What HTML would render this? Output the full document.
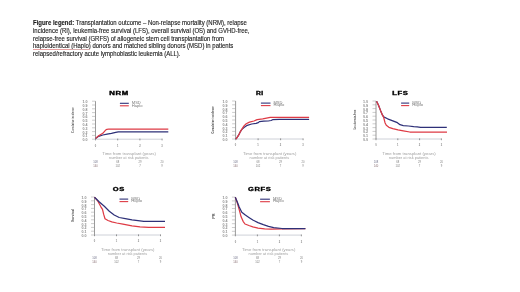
<!DOCTYPE html>
<html><head><meta charset="utf-8"><style>
html,body{margin:0;padding:0;background:#fff;width:520px;height:292px;overflow:hidden}
#legend{position:absolute;left:33px;top:19.2px;font-family:"Liberation Sans",Arial,sans-serif;font-size:6.4px;line-height:7.75px;color:#1a1a1a;-webkit-text-stroke:0.12px #1a1a1a;white-space:nowrap;transform:scaleX(0.935);transform-origin:0 0}
.uq{position:absolute;height:0.7px}
.sq{text-decoration:underline wavy #d33;text-decoration-thickness:0.5px}
.ul{text-decoration:underline #888;text-decoration-thickness:0.5px}
svg{position:absolute;left:0;top:0}
.tt{font-family:"Liberation Sans",Arial,sans-serif;font-weight:bold;font-size:4.5px;letter-spacing:0.35px;text-anchor:middle;fill:#000;stroke:#000;stroke-width:0.3px}
.lg{font-family:"Liberation Sans",Arial,sans-serif;font-size:2.6px;fill:#7a7a7a}
.tl{font-family:"Liberation Sans",Arial,sans-serif;font-weight:bold;font-size:2.6px;fill:#8a8a8a}
.nr{font-family:"Liberation Sans",Arial,sans-serif;font-size:2.7px;fill:#808080}
.xt{font-family:"Liberation Sans",Arial,sans-serif;font-size:2.6px;fill:#a0a0a0}
.yt{font-family:"Liberation Sans",Arial,sans-serif;font-weight:bold;font-size:3.6px;fill:#555}
</style></head><body>
<div id="legend"><b>Figure legend:</b> Transplantation outcome – Non-relapse mortality (NRM), relapse<br>incidence (RI), leukemia-free survival (LFS), overall survival (OS) and GVHD-free,<br>relapse-free survival (GRFS) of allogeneic stem cell transplantation from<br>haploidentical (Haplo) donors and matched sibling donors (MSD) in patients<br>relapsed/refractory acute lymphoblastic leukemia (ALL).</div>
<div class="uq" style="left:33px;top:49.4px;width:37.5px;background:#e7a0a0"></div><div class="uq" style="left:71px;top:49.4px;width:19px;background:#d8b0b0"></div>
<svg width="520" height="292" viewBox="0 0 520 292">
<text x="119.0" y="95.2" class="tt" textLength="19.5" lengthAdjust="spacingAndGlyphs">NRM</text>
<line x1="119.9" y1="103.3" x2="128.8" y2="103.3" stroke="#2e3078" stroke-width="1.1"/>
<line x1="119.9" y1="105.8" x2="128.8" y2="105.8" stroke="#de3a44" stroke-width="1.1"/>
<text x="131.8" y="103.9" class="lg" textLength="9" lengthAdjust="spacingAndGlyphs">MSD</text>
<text x="131.8" y="106.5" class="lg" textLength="10.8" lengthAdjust="spacingAndGlyphs">Haplo</text>
<line x1="92.0" y1="101.2" x2="95.5" y2="101.2" stroke="#9a9a9a" stroke-width="0.5"/>
<text x="87.5" y="103.1" class="tl" text-anchor="end" textLength="5" lengthAdjust="spacingAndGlyphs">1.0</text>
<line x1="92.0" y1="105.0" x2="95.5" y2="105.0" stroke="#9a9a9a" stroke-width="0.5"/>
<text x="87.5" y="106.9" class="tl" text-anchor="end" textLength="5" lengthAdjust="spacingAndGlyphs">0.9</text>
<line x1="92.0" y1="108.8" x2="95.5" y2="108.8" stroke="#9a9a9a" stroke-width="0.5"/>
<text x="87.5" y="110.7" class="tl" text-anchor="end" textLength="5" lengthAdjust="spacingAndGlyphs">0.8</text>
<line x1="92.0" y1="112.6" x2="95.5" y2="112.6" stroke="#9a9a9a" stroke-width="0.5"/>
<text x="87.5" y="114.5" class="tl" text-anchor="end" textLength="5" lengthAdjust="spacingAndGlyphs">0.7</text>
<line x1="92.0" y1="116.4" x2="95.5" y2="116.4" stroke="#9a9a9a" stroke-width="0.5"/>
<text x="87.5" y="118.3" class="tl" text-anchor="end" textLength="5" lengthAdjust="spacingAndGlyphs">0.6</text>
<line x1="92.0" y1="120.2" x2="95.5" y2="120.2" stroke="#9a9a9a" stroke-width="0.5"/>
<text x="87.5" y="122.1" class="tl" text-anchor="end" textLength="5" lengthAdjust="spacingAndGlyphs">0.5</text>
<line x1="92.0" y1="124.0" x2="95.5" y2="124.0" stroke="#9a9a9a" stroke-width="0.5"/>
<text x="87.5" y="125.9" class="tl" text-anchor="end" textLength="5" lengthAdjust="spacingAndGlyphs">0.4</text>
<line x1="92.0" y1="127.8" x2="95.5" y2="127.8" stroke="#9a9a9a" stroke-width="0.5"/>
<text x="87.5" y="129.7" class="tl" text-anchor="end" textLength="5" lengthAdjust="spacingAndGlyphs">0.3</text>
<line x1="92.0" y1="131.6" x2="95.5" y2="131.6" stroke="#9a9a9a" stroke-width="0.5"/>
<text x="87.5" y="133.5" class="tl" text-anchor="end" textLength="5" lengthAdjust="spacingAndGlyphs">0.2</text>
<line x1="92.0" y1="135.4" x2="95.5" y2="135.4" stroke="#9a9a9a" stroke-width="0.5"/>
<text x="87.5" y="137.3" class="tl" text-anchor="end" textLength="5" lengthAdjust="spacingAndGlyphs">0.1</text>
<line x1="92.0" y1="139.2" x2="95.5" y2="139.2" stroke="#9a9a9a" stroke-width="0.5"/>
<text x="87.5" y="141.1" class="tl" text-anchor="end" textLength="5" lengthAdjust="spacingAndGlyphs">0.0</text>
<line x1="95.5" y1="139.2" x2="162.1" y2="139.2" stroke="#c8ccd4" stroke-width="0.9"/>
<line x1="95.5" y1="138.6" x2="95.5" y2="140.4" stroke="#555" stroke-width="0.6"/>
<text x="95.5" y="146.6" class="tl" text-anchor="middle">0</text>
<text x="95.5" y="163.1" class="nr" text-anchor="middle" style="fill:#70728a">108</text>
<text x="95.5" y="166.7" class="nr" text-anchor="middle" style="fill:#8a7074">140</text>
<line x1="117.7" y1="138.6" x2="117.7" y2="140.4" stroke="#555" stroke-width="0.6"/>
<text x="117.7" y="146.6" class="tl" text-anchor="middle">1</text>
<text x="117.7" y="163.1" class="nr" text-anchor="middle">68</text>
<text x="117.7" y="166.7" class="nr" text-anchor="middle">102</text>
<line x1="139.9" y1="138.6" x2="139.9" y2="140.4" stroke="#555" stroke-width="0.6"/>
<text x="139.9" y="146.6" class="tl" text-anchor="middle">2</text>
<text x="139.9" y="163.1" class="nr" text-anchor="middle">29</text>
<text x="139.9" y="166.7" class="nr" text-anchor="middle">7</text>
<line x1="162.1" y1="138.6" x2="162.1" y2="140.4" stroke="#555" stroke-width="0.6"/>
<text x="162.1" y="146.6" class="tl" text-anchor="middle">3</text>
<text x="162.1" y="163.1" class="nr" text-anchor="middle">20</text>
<text x="162.1" y="166.7" class="nr" text-anchor="middle">9</text>
<line x1="95.5" y1="101.2" x2="95.5" y2="139.2" stroke="#9a9a9a" stroke-width="1"/>
<text x="129.1" y="155.2" class="xt" text-anchor="middle" textLength="53.5" lengthAdjust="spacingAndGlyphs">Time from transplant (years)</text>
<text x="128.8" y="158.8" class="xt" text-anchor="middle" textLength="39.6" lengthAdjust="spacingAndGlyphs">number at risk patients</text>
<text transform="translate(73.80,120.2) rotate(-90)" x="0" y="0" class="yt" text-anchor="middle" textLength="25.4" lengthAdjust="spacingAndGlyphs">Cumulative incidence</text>
<polyline points="95.6,138.4 98.6,136.3 102.8,135.0 107.1,134.1 111.4,133.3 115.7,132.4 118.3,131.9 168.3,131.9" fill="none" stroke="#2e3078" stroke-width="1.25" stroke-linejoin="round"/>
<polyline points="95.6,138.4 98.6,135.8 102.8,133.3 105.4,130.3 107.0,129.3 108.8,129.0 168.3,129.0" fill="none" stroke="#de3a44" stroke-width="1.25" stroke-linejoin="round"/>
<text x="259.9" y="95.0" class="tt" textLength="7.7" lengthAdjust="spacingAndGlyphs">RI</text>
<line x1="260.9" y1="103.1" x2="270.5" y2="103.1" stroke="#2e3078" stroke-width="1.1"/>
<line x1="260.9" y1="105.6" x2="270.5" y2="105.6" stroke="#de3a44" stroke-width="1.1"/>
<text x="273.5" y="103.7" class="lg" textLength="9" lengthAdjust="spacingAndGlyphs">MSD</text>
<text x="273.5" y="106.3" class="lg" textLength="10.8" lengthAdjust="spacingAndGlyphs">Haplo</text>
<line x1="232.1" y1="101.0" x2="235.6" y2="101.0" stroke="#9a9a9a" stroke-width="0.5"/>
<text x="227.6" y="102.9" class="tl" text-anchor="end" textLength="5" lengthAdjust="spacingAndGlyphs">1.0</text>
<line x1="232.1" y1="104.8" x2="235.6" y2="104.8" stroke="#9a9a9a" stroke-width="0.5"/>
<text x="227.6" y="106.7" class="tl" text-anchor="end" textLength="5" lengthAdjust="spacingAndGlyphs">0.9</text>
<line x1="232.1" y1="108.6" x2="235.6" y2="108.6" stroke="#9a9a9a" stroke-width="0.5"/>
<text x="227.6" y="110.5" class="tl" text-anchor="end" textLength="5" lengthAdjust="spacingAndGlyphs">0.8</text>
<line x1="232.1" y1="112.4" x2="235.6" y2="112.4" stroke="#9a9a9a" stroke-width="0.5"/>
<text x="227.6" y="114.3" class="tl" text-anchor="end" textLength="5" lengthAdjust="spacingAndGlyphs">0.7</text>
<line x1="232.1" y1="116.2" x2="235.6" y2="116.2" stroke="#9a9a9a" stroke-width="0.5"/>
<text x="227.6" y="118.1" class="tl" text-anchor="end" textLength="5" lengthAdjust="spacingAndGlyphs">0.6</text>
<line x1="232.1" y1="120.0" x2="235.6" y2="120.0" stroke="#9a9a9a" stroke-width="0.5"/>
<text x="227.6" y="121.9" class="tl" text-anchor="end" textLength="5" lengthAdjust="spacingAndGlyphs">0.5</text>
<line x1="232.1" y1="123.8" x2="235.6" y2="123.8" stroke="#9a9a9a" stroke-width="0.5"/>
<text x="227.6" y="125.7" class="tl" text-anchor="end" textLength="5" lengthAdjust="spacingAndGlyphs">0.4</text>
<line x1="232.1" y1="127.6" x2="235.6" y2="127.6" stroke="#9a9a9a" stroke-width="0.5"/>
<text x="227.6" y="129.5" class="tl" text-anchor="end" textLength="5" lengthAdjust="spacingAndGlyphs">0.3</text>
<line x1="232.1" y1="131.4" x2="235.6" y2="131.4" stroke="#9a9a9a" stroke-width="0.5"/>
<text x="227.6" y="133.3" class="tl" text-anchor="end" textLength="5" lengthAdjust="spacingAndGlyphs">0.2</text>
<line x1="232.1" y1="135.2" x2="235.6" y2="135.2" stroke="#9a9a9a" stroke-width="0.5"/>
<text x="227.6" y="137.1" class="tl" text-anchor="end" textLength="5" lengthAdjust="spacingAndGlyphs">0.1</text>
<line x1="232.1" y1="139.0" x2="235.6" y2="139.0" stroke="#9a9a9a" stroke-width="0.5"/>
<text x="227.6" y="140.9" class="tl" text-anchor="end" textLength="5" lengthAdjust="spacingAndGlyphs">0.0</text>
<line x1="235.6" y1="139.0" x2="303.1" y2="139.0" stroke="#c8ccd4" stroke-width="0.9"/>
<line x1="235.6" y1="138.4" x2="235.6" y2="140.2" stroke="#555" stroke-width="0.6"/>
<text x="235.6" y="146.4" class="tl" text-anchor="middle">0</text>
<text x="235.6" y="162.9" class="nr" text-anchor="middle" style="fill:#70728a">108</text>
<text x="235.6" y="166.5" class="nr" text-anchor="middle" style="fill:#8a7074">140</text>
<line x1="258.1" y1="138.4" x2="258.1" y2="140.2" stroke="#555" stroke-width="0.6"/>
<text x="258.1" y="146.4" class="tl" text-anchor="middle">1</text>
<text x="258.1" y="162.9" class="nr" text-anchor="middle">68</text>
<text x="258.1" y="166.5" class="nr" text-anchor="middle">102</text>
<line x1="280.6" y1="138.4" x2="280.6" y2="140.2" stroke="#555" stroke-width="0.6"/>
<text x="280.6" y="146.4" class="tl" text-anchor="middle">2</text>
<text x="280.6" y="162.9" class="nr" text-anchor="middle">29</text>
<text x="280.6" y="166.5" class="nr" text-anchor="middle">7</text>
<line x1="303.1" y1="138.4" x2="303.1" y2="140.2" stroke="#555" stroke-width="0.6"/>
<text x="303.1" y="146.4" class="tl" text-anchor="middle">3</text>
<text x="303.1" y="162.9" class="nr" text-anchor="middle">20</text>
<text x="303.1" y="166.5" class="nr" text-anchor="middle">9</text>
<line x1="235.6" y1="101.0" x2="235.6" y2="139.0" stroke="#9a9a9a" stroke-width="1"/>
<text x="269.7" y="155.0" class="xt" text-anchor="middle" textLength="53.5" lengthAdjust="spacingAndGlyphs">Time from transplant (years)</text>
<text x="269.4" y="158.6" class="xt" text-anchor="middle" textLength="39.6" lengthAdjust="spacingAndGlyphs">number at risk patients</text>
<text transform="translate(214.15,119.9) rotate(-90)" x="0" y="0" class="yt" text-anchor="middle" textLength="27.4" lengthAdjust="spacingAndGlyphs">Cumulative incidence</text>
<polyline points="235.8,139.0 237.2,137.3 238.6,135.2 240.2,131.9 241.9,129.4 244.0,127.5 247.3,125.3 251.7,124.0 256.1,123.4 258.3,122.6 259.4,121.6 263.8,121.2 268.2,121.0 271.1,120.5 272.6,119.7 279.3,119.3 309.1,119.3" fill="none" stroke="#2e3078" stroke-width="1.25" stroke-linejoin="round"/>
<polyline points="235.8,139.0 237.2,137.3 238.6,135.2 240.2,131.9 241.9,129.2 244.0,125.9 246.2,123.7 249.5,122.1 253.9,121.0 257.2,119.6 262.7,118.8 267.8,117.8 270.2,117.4 309.1,117.4" fill="none" stroke="#de3a44" stroke-width="1.25" stroke-linejoin="round"/>
<text x="400.3" y="95.0" class="tt" textLength="16.1" lengthAdjust="spacingAndGlyphs">LFS</text>
<line x1="401.1" y1="103.1" x2="409.2" y2="103.1" stroke="#2e3078" stroke-width="1.1"/>
<line x1="401.1" y1="105.6" x2="409.2" y2="105.6" stroke="#de3a44" stroke-width="1.1"/>
<text x="412.2" y="103.7" class="lg" textLength="9" lengthAdjust="spacingAndGlyphs">MSD</text>
<text x="412.2" y="106.3" class="lg" textLength="10.8" lengthAdjust="spacingAndGlyphs">Haplo</text>
<line x1="372.5" y1="101.0" x2="376.0" y2="101.0" stroke="#9a9a9a" stroke-width="0.5"/>
<text x="368.0" y="102.9" class="tl" text-anchor="end" textLength="5" lengthAdjust="spacingAndGlyphs">1.0</text>
<line x1="372.5" y1="104.8" x2="376.0" y2="104.8" stroke="#9a9a9a" stroke-width="0.5"/>
<text x="368.0" y="106.7" class="tl" text-anchor="end" textLength="5" lengthAdjust="spacingAndGlyphs">0.9</text>
<line x1="372.5" y1="108.6" x2="376.0" y2="108.6" stroke="#9a9a9a" stroke-width="0.5"/>
<text x="368.0" y="110.5" class="tl" text-anchor="end" textLength="5" lengthAdjust="spacingAndGlyphs">0.8</text>
<line x1="372.5" y1="112.4" x2="376.0" y2="112.4" stroke="#9a9a9a" stroke-width="0.5"/>
<text x="368.0" y="114.3" class="tl" text-anchor="end" textLength="5" lengthAdjust="spacingAndGlyphs">0.7</text>
<line x1="372.5" y1="116.2" x2="376.0" y2="116.2" stroke="#9a9a9a" stroke-width="0.5"/>
<text x="368.0" y="118.1" class="tl" text-anchor="end" textLength="5" lengthAdjust="spacingAndGlyphs">0.6</text>
<line x1="372.5" y1="120.0" x2="376.0" y2="120.0" stroke="#9a9a9a" stroke-width="0.5"/>
<text x="368.0" y="121.9" class="tl" text-anchor="end" textLength="5" lengthAdjust="spacingAndGlyphs">0.5</text>
<line x1="372.5" y1="123.8" x2="376.0" y2="123.8" stroke="#9a9a9a" stroke-width="0.5"/>
<text x="368.0" y="125.7" class="tl" text-anchor="end" textLength="5" lengthAdjust="spacingAndGlyphs">0.4</text>
<line x1="372.5" y1="127.6" x2="376.0" y2="127.6" stroke="#9a9a9a" stroke-width="0.5"/>
<text x="368.0" y="129.5" class="tl" text-anchor="end" textLength="5" lengthAdjust="spacingAndGlyphs">0.3</text>
<line x1="372.5" y1="131.4" x2="376.0" y2="131.4" stroke="#9a9a9a" stroke-width="0.5"/>
<text x="368.0" y="133.3" class="tl" text-anchor="end" textLength="5" lengthAdjust="spacingAndGlyphs">0.2</text>
<line x1="372.5" y1="135.2" x2="376.0" y2="135.2" stroke="#9a9a9a" stroke-width="0.5"/>
<text x="368.0" y="137.1" class="tl" text-anchor="end" textLength="5" lengthAdjust="spacingAndGlyphs">0.1</text>
<line x1="372.5" y1="139.0" x2="376.0" y2="139.0" stroke="#9a9a9a" stroke-width="0.5"/>
<text x="368.0" y="140.9" class="tl" text-anchor="end" textLength="5" lengthAdjust="spacingAndGlyphs">0.0</text>
<line x1="376.0" y1="139.0" x2="441.4" y2="139.0" stroke="#c8ccd4" stroke-width="0.9"/>
<line x1="376.0" y1="138.4" x2="376.0" y2="140.2" stroke="#555" stroke-width="0.6"/>
<text x="376.0" y="146.4" class="tl" text-anchor="middle">0</text>
<text x="376.0" y="162.9" class="nr" text-anchor="middle" style="fill:#70728a">108</text>
<text x="376.0" y="166.5" class="nr" text-anchor="middle" style="fill:#8a7074">140</text>
<line x1="397.8" y1="138.4" x2="397.8" y2="140.2" stroke="#555" stroke-width="0.6"/>
<text x="397.8" y="146.4" class="tl" text-anchor="middle">1</text>
<text x="397.8" y="162.9" class="nr" text-anchor="middle">68</text>
<text x="397.8" y="166.5" class="nr" text-anchor="middle">102</text>
<line x1="419.6" y1="138.4" x2="419.6" y2="140.2" stroke="#555" stroke-width="0.6"/>
<text x="419.6" y="146.4" class="tl" text-anchor="middle">2</text>
<text x="419.6" y="162.9" class="nr" text-anchor="middle">29</text>
<text x="419.6" y="166.5" class="nr" text-anchor="middle">7</text>
<line x1="441.4" y1="138.4" x2="441.4" y2="140.2" stroke="#555" stroke-width="0.6"/>
<text x="441.4" y="146.4" class="tl" text-anchor="middle">3</text>
<text x="441.4" y="162.9" class="nr" text-anchor="middle">20</text>
<text x="441.4" y="166.5" class="nr" text-anchor="middle">9</text>
<line x1="376.0" y1="101.0" x2="376.0" y2="139.0" stroke="#9a9a9a" stroke-width="1"/>
<text x="409.0" y="155.0" class="xt" text-anchor="middle" textLength="53.5" lengthAdjust="spacingAndGlyphs">Time from transplant (years)</text>
<text x="408.7" y="158.6" class="xt" text-anchor="middle" textLength="39.6" lengthAdjust="spacingAndGlyphs">number at risk patients</text>
<text transform="translate(355.50,119.5) rotate(-90)" x="0" y="0" class="yt" text-anchor="middle" textLength="19.9" lengthAdjust="spacingAndGlyphs">Leukemia-free</text>
<polyline points="376.6,101.3 378.5,105.2 380.5,110.4 382.4,114.9 383.7,116.9 387.6,118.8 392.8,120.8 397.4,122.7 400.0,124.7 403.3,125.6 408.5,126.0 413.7,126.7 417.1,126.9 420.6,127.4 446.8,127.4" fill="none" stroke="#2e3078" stroke-width="1.25" stroke-linejoin="round"/>
<polyline points="376.6,101.3 378.5,105.2 380.5,110.4 382.4,114.9 383.7,117.5 385.0,122.7 386.3,125.3 388.9,127.3 392.8,128.6 398.0,129.9 403.3,130.8 409.8,132.0 447.0,132.1" fill="none" stroke="#de3a44" stroke-width="1.25" stroke-linejoin="round"/>
<text x="118.8" y="191.0" class="tt" textLength="12.0" lengthAdjust="spacingAndGlyphs">OS</text>
<line x1="119.5" y1="199.1" x2="128.2" y2="199.1" stroke="#2e3078" stroke-width="1.1"/>
<line x1="119.5" y1="201.6" x2="128.2" y2="201.6" stroke="#de3a44" stroke-width="1.1"/>
<text x="131.2" y="199.7" class="lg" textLength="9" lengthAdjust="spacingAndGlyphs">MSD</text>
<text x="131.2" y="202.3" class="lg" textLength="10.8" lengthAdjust="spacingAndGlyphs">Haplo</text>
<line x1="91.0" y1="197.0" x2="94.5" y2="197.0" stroke="#9a9a9a" stroke-width="0.5"/>
<text x="86.5" y="198.9" class="tl" text-anchor="end" textLength="5" lengthAdjust="spacingAndGlyphs">1.0</text>
<line x1="91.0" y1="200.8" x2="94.5" y2="200.8" stroke="#9a9a9a" stroke-width="0.5"/>
<text x="86.5" y="202.7" class="tl" text-anchor="end" textLength="5" lengthAdjust="spacingAndGlyphs">0.9</text>
<line x1="91.0" y1="204.6" x2="94.5" y2="204.6" stroke="#9a9a9a" stroke-width="0.5"/>
<text x="86.5" y="206.5" class="tl" text-anchor="end" textLength="5" lengthAdjust="spacingAndGlyphs">0.8</text>
<line x1="91.0" y1="208.4" x2="94.5" y2="208.4" stroke="#9a9a9a" stroke-width="0.5"/>
<text x="86.5" y="210.3" class="tl" text-anchor="end" textLength="5" lengthAdjust="spacingAndGlyphs">0.7</text>
<line x1="91.0" y1="212.2" x2="94.5" y2="212.2" stroke="#9a9a9a" stroke-width="0.5"/>
<text x="86.5" y="214.1" class="tl" text-anchor="end" textLength="5" lengthAdjust="spacingAndGlyphs">0.6</text>
<line x1="91.0" y1="216.0" x2="94.5" y2="216.0" stroke="#9a9a9a" stroke-width="0.5"/>
<text x="86.5" y="217.9" class="tl" text-anchor="end" textLength="5" lengthAdjust="spacingAndGlyphs">0.5</text>
<line x1="91.0" y1="219.8" x2="94.5" y2="219.8" stroke="#9a9a9a" stroke-width="0.5"/>
<text x="86.5" y="221.7" class="tl" text-anchor="end" textLength="5" lengthAdjust="spacingAndGlyphs">0.4</text>
<line x1="91.0" y1="223.6" x2="94.5" y2="223.6" stroke="#9a9a9a" stroke-width="0.5"/>
<text x="86.5" y="225.5" class="tl" text-anchor="end" textLength="5" lengthAdjust="spacingAndGlyphs">0.3</text>
<line x1="91.0" y1="227.4" x2="94.5" y2="227.4" stroke="#9a9a9a" stroke-width="0.5"/>
<text x="86.5" y="229.3" class="tl" text-anchor="end" textLength="5" lengthAdjust="spacingAndGlyphs">0.2</text>
<line x1="91.0" y1="231.2" x2="94.5" y2="231.2" stroke="#9a9a9a" stroke-width="0.5"/>
<text x="86.5" y="233.1" class="tl" text-anchor="end" textLength="5" lengthAdjust="spacingAndGlyphs">0.1</text>
<line x1="91.0" y1="235.0" x2="94.5" y2="235.0" stroke="#9a9a9a" stroke-width="0.5"/>
<text x="86.5" y="236.9" class="tl" text-anchor="end" textLength="5" lengthAdjust="spacingAndGlyphs">0.0</text>
<line x1="94.5" y1="235.0" x2="160.5" y2="235.0" stroke="#c8ccd4" stroke-width="0.9"/>
<line x1="94.5" y1="234.4" x2="94.5" y2="236.2" stroke="#555" stroke-width="0.6"/>
<text x="94.5" y="242.4" class="tl" text-anchor="middle">0</text>
<text x="94.5" y="258.9" class="nr" text-anchor="middle" style="fill:#70728a">108</text>
<text x="94.5" y="262.5" class="nr" text-anchor="middle" style="fill:#8a7074">140</text>
<line x1="116.5" y1="234.4" x2="116.5" y2="236.2" stroke="#555" stroke-width="0.6"/>
<text x="116.5" y="242.4" class="tl" text-anchor="middle">1</text>
<text x="116.5" y="258.9" class="nr" text-anchor="middle">68</text>
<text x="116.5" y="262.5" class="nr" text-anchor="middle">102</text>
<line x1="138.5" y1="234.4" x2="138.5" y2="236.2" stroke="#555" stroke-width="0.6"/>
<text x="138.5" y="242.4" class="tl" text-anchor="middle">2</text>
<text x="138.5" y="258.9" class="nr" text-anchor="middle">29</text>
<text x="138.5" y="262.5" class="nr" text-anchor="middle">7</text>
<line x1="160.5" y1="234.4" x2="160.5" y2="236.2" stroke="#555" stroke-width="0.6"/>
<text x="160.5" y="242.4" class="tl" text-anchor="middle">3</text>
<text x="160.5" y="258.9" class="nr" text-anchor="middle">20</text>
<text x="160.5" y="262.5" class="nr" text-anchor="middle">9</text>
<line x1="94.5" y1="197.0" x2="94.5" y2="235.0" stroke="#9a9a9a" stroke-width="1"/>
<text x="127.8" y="251.0" class="xt" text-anchor="middle" textLength="53.5" lengthAdjust="spacingAndGlyphs">Time from transplant (years)</text>
<text x="127.5" y="254.6" class="xt" text-anchor="middle" textLength="39.6" lengthAdjust="spacingAndGlyphs">number at risk patients</text>
<text transform="translate(74.05,215.5) rotate(-90)" x="0" y="0" class="yt" text-anchor="middle" textLength="13.0" lengthAdjust="spacingAndGlyphs">Survival</text>
<polyline points="94.5,197.2 97.6,200.8 100.6,206.3 102.5,209.4 103.7,214.4 105.0,218.7 108.0,220.5 111.8,221.8 116.7,223.0 122.9,224.2 132.0,225.9 140.0,226.8 148.5,227.4 165.0,227.4" fill="none" stroke="#de3a44" stroke-width="1.25" stroke-linejoin="round"/>
<polyline points="94.5,197.2 99.4,202.0 104.3,206.3 109.3,211.3 114.2,215.0 119.2,217.5 125.3,218.7 132.0,219.9 138.0,220.7 143.8,221.4 165.0,221.4" fill="none" stroke="#2e3078" stroke-width="1.25" stroke-linejoin="round"/>
<text x="259.7" y="191.1" class="tt" textLength="23.2" lengthAdjust="spacingAndGlyphs">GRFS</text>
<line x1="260.1" y1="199.2" x2="269.9" y2="199.2" stroke="#2e3078" stroke-width="1.1"/>
<line x1="260.1" y1="201.7" x2="269.9" y2="201.7" stroke="#de3a44" stroke-width="1.1"/>
<text x="272.9" y="199.8" class="lg" textLength="9" lengthAdjust="spacingAndGlyphs">MSD</text>
<text x="272.9" y="202.4" class="lg" textLength="10.8" lengthAdjust="spacingAndGlyphs">Haplo</text>
<line x1="231.9" y1="197.1" x2="235.4" y2="197.1" stroke="#9a9a9a" stroke-width="0.5"/>
<text x="227.4" y="199.0" class="tl" text-anchor="end" textLength="5" lengthAdjust="spacingAndGlyphs">1.0</text>
<line x1="231.9" y1="200.9" x2="235.4" y2="200.9" stroke="#9a9a9a" stroke-width="0.5"/>
<text x="227.4" y="202.8" class="tl" text-anchor="end" textLength="5" lengthAdjust="spacingAndGlyphs">0.9</text>
<line x1="231.9" y1="204.7" x2="235.4" y2="204.7" stroke="#9a9a9a" stroke-width="0.5"/>
<text x="227.4" y="206.6" class="tl" text-anchor="end" textLength="5" lengthAdjust="spacingAndGlyphs">0.8</text>
<line x1="231.9" y1="208.5" x2="235.4" y2="208.5" stroke="#9a9a9a" stroke-width="0.5"/>
<text x="227.4" y="210.4" class="tl" text-anchor="end" textLength="5" lengthAdjust="spacingAndGlyphs">0.7</text>
<line x1="231.9" y1="212.3" x2="235.4" y2="212.3" stroke="#9a9a9a" stroke-width="0.5"/>
<text x="227.4" y="214.2" class="tl" text-anchor="end" textLength="5" lengthAdjust="spacingAndGlyphs">0.6</text>
<line x1="231.9" y1="216.1" x2="235.4" y2="216.1" stroke="#9a9a9a" stroke-width="0.5"/>
<text x="227.4" y="218.0" class="tl" text-anchor="end" textLength="5" lengthAdjust="spacingAndGlyphs">0.5</text>
<line x1="231.9" y1="219.9" x2="235.4" y2="219.9" stroke="#9a9a9a" stroke-width="0.5"/>
<text x="227.4" y="221.8" class="tl" text-anchor="end" textLength="5" lengthAdjust="spacingAndGlyphs">0.4</text>
<line x1="231.9" y1="223.7" x2="235.4" y2="223.7" stroke="#9a9a9a" stroke-width="0.5"/>
<text x="227.4" y="225.6" class="tl" text-anchor="end" textLength="5" lengthAdjust="spacingAndGlyphs">0.3</text>
<line x1="231.9" y1="227.5" x2="235.4" y2="227.5" stroke="#9a9a9a" stroke-width="0.5"/>
<text x="227.4" y="229.4" class="tl" text-anchor="end" textLength="5" lengthAdjust="spacingAndGlyphs">0.2</text>
<line x1="231.9" y1="231.3" x2="235.4" y2="231.3" stroke="#9a9a9a" stroke-width="0.5"/>
<text x="227.4" y="233.2" class="tl" text-anchor="end" textLength="5" lengthAdjust="spacingAndGlyphs">0.1</text>
<line x1="231.9" y1="235.1" x2="235.4" y2="235.1" stroke="#9a9a9a" stroke-width="0.5"/>
<text x="227.4" y="237.0" class="tl" text-anchor="end" textLength="5" lengthAdjust="spacingAndGlyphs">0.0</text>
<line x1="235.4" y1="235.1" x2="301.4" y2="235.1" stroke="#c8ccd4" stroke-width="0.9"/>
<line x1="235.4" y1="234.5" x2="235.4" y2="236.3" stroke="#555" stroke-width="0.6"/>
<text x="235.4" y="242.5" class="tl" text-anchor="middle">0</text>
<text x="235.4" y="259.0" class="nr" text-anchor="middle" style="fill:#70728a">108</text>
<text x="235.4" y="262.6" class="nr" text-anchor="middle" style="fill:#8a7074">140</text>
<line x1="257.4" y1="234.5" x2="257.4" y2="236.3" stroke="#555" stroke-width="0.6"/>
<text x="257.4" y="242.5" class="tl" text-anchor="middle">1</text>
<text x="257.4" y="259.0" class="nr" text-anchor="middle">68</text>
<text x="257.4" y="262.6" class="nr" text-anchor="middle">102</text>
<line x1="279.4" y1="234.5" x2="279.4" y2="236.3" stroke="#555" stroke-width="0.6"/>
<text x="279.4" y="242.5" class="tl" text-anchor="middle">2</text>
<text x="279.4" y="259.0" class="nr" text-anchor="middle">29</text>
<text x="279.4" y="262.6" class="nr" text-anchor="middle">7</text>
<line x1="301.4" y1="234.5" x2="301.4" y2="236.3" stroke="#555" stroke-width="0.6"/>
<text x="301.4" y="242.5" class="tl" text-anchor="middle">3</text>
<text x="301.4" y="259.0" class="nr" text-anchor="middle">20</text>
<text x="301.4" y="262.6" class="nr" text-anchor="middle">9</text>
<line x1="235.4" y1="197.1" x2="235.4" y2="235.1" stroke="#9a9a9a" stroke-width="1"/>
<text x="268.7" y="251.1" class="xt" text-anchor="middle" textLength="53.5" lengthAdjust="spacingAndGlyphs">Time from transplant (years)</text>
<text x="268.4" y="254.7" class="xt" text-anchor="middle" textLength="39.6" lengthAdjust="spacingAndGlyphs">number at risk patients</text>
<text transform="translate(215.15,216.2) rotate(-90)" x="0" y="0" class="yt" text-anchor="middle" textLength="5.3" lengthAdjust="spacingAndGlyphs">PR</text>
<polyline points="235.3,197.3 237.2,202.5 239.2,209.6 241.1,216.8 243.1,221.3 245.0,224.0 248.9,225.5 252.8,226.8 258.0,228.1 264.6,228.9 271.0,229.2 282.0,228.9 305.4,228.6" fill="none" stroke="#de3a44" stroke-width="1.25" stroke-linejoin="round"/>
<polyline points="235.3,197.3 237.2,201.8 239.2,207.0 241.8,212.2 245.0,214.8 248.9,217.4 252.8,220.0 258.0,222.6 263.3,224.6 268.5,226.3 273.7,227.6 282.0,228.5 305.4,228.5" fill="none" stroke="#2e3078" stroke-width="1.25" stroke-linejoin="round"/>
</svg>
</body></html>
